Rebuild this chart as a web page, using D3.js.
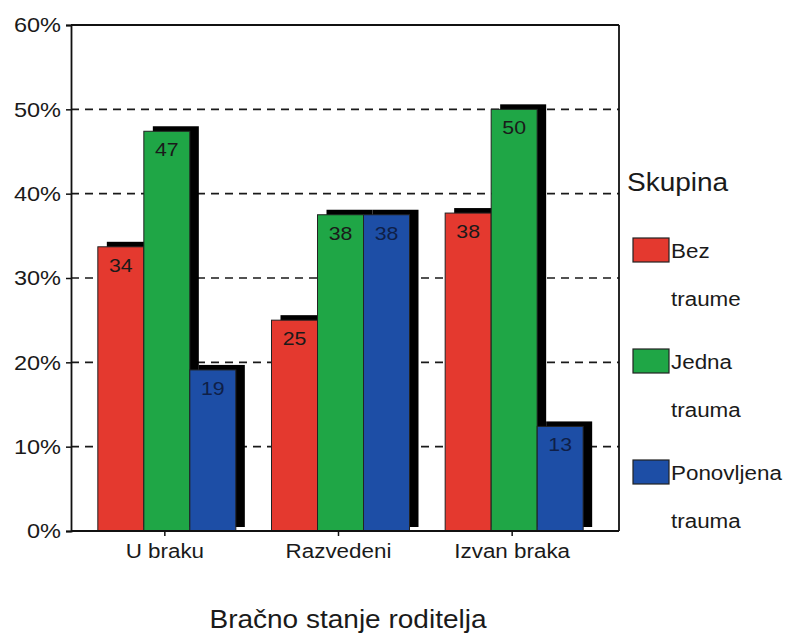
<!DOCTYPE html>
<html>
<head>
<meta charset="utf-8">
<script src="https://cdn.jsdelivr.net/npm/d3@7"></script>
<style>
  html, body { margin: 0; padding: 0; background: #fff; }
  text { font-family: Arial, "Liberation Sans", Helvetica, sans-serif; fill: #1a1a1a; }
</style>
</head>
<body>
<svg id="chart" width="792" height="636"></svg>
<script>
// ---- data ----
const categories = ["U braku", "Razvedeni", "Izvan braka"];
const seriesNames = ["Bez traume", "Jedna trauma", "Ponovljena trauma"];
const seriesLegendLines = [["Bez", "traume"], ["Jedna", "trauma"], ["Ponovljena", "trauma"]];
const bezTraume = [33.7, 25.0, 37.7];
const jednaTrauma = [47.4, 37.5, 50.0];
const ponovljenaTrauma = [19.1, 37.5, 12.4];
const valueLabels = [[34, 25, 38], [47, 38, 50], [19, 38, 13]];
const yTicks = [0, 10, 20, 30, 40, 50, 60];
const colors = ["#e4392f", "#1fa646", "#1d4ea6"];
const xTitle = "Bračno stanje roditelja";
const legendTitle = "Skupina";

const seriesValues = [bezTraume, jednaTrauma, ponovljenaTrauma];
const SX = 1.12; // horizontal stretch of text

const svg = d3.select("#chart");
const plot = { left: 71, right: 619, top: 25, bottom: 531 };

const y = d3.scaleLinear().domain([0, 60]).range([plot.bottom, plot.top]);
const x = d3.scaleBand().domain(categories).range([78, 599]).paddingInner(0).paddingOuter(0);
const xs = d3.scaleBand().domain(d3.range(3)).range([-67, 71]).padding(0);

function stretch(sel) {
  sel.each(function() {
    const w = this.getComputedTextLength();
    d3.select(this).attr("textLength", w * SX).attr("lengthAdjust", "spacingAndGlyphs");
  });
}

// grid lines
svg.append("g").selectAll("line").data(yTicks.filter(d => d > 0 && d < 60)).join("line")
  .attr("x1", plot.left).attr("x2", plot.right)
  .attr("y1", d => y(d)).attr("y2", d => y(d))
  .attr("stroke", "#1a1a1a").attr("stroke-width", 1.6).attr("stroke-dasharray", "8,6");

// bars with shadows
const gBars = svg.append("g");
seriesValues.forEach((vals, si) => {
  const g = gBars.append("g");
  categories.forEach((c, ci) => {
    const bx = x(c) + x.bandwidth() / 2 + xs(si);
    const by = y(vals[ci]);
    g.append("rect")
      .attr("x", bx + 9).attr("y", by - 5)
      .attr("width", xs.bandwidth()).attr("height", plot.bottom - 4 - (by - 5))
      .attr("fill", "#000");
    g.append("rect")
      .attr("x", bx).attr("y", by)
      .attr("width", xs.bandwidth()).attr("height", plot.bottom - by)
      .attr("fill", colors[si]).attr("stroke", "#222").attr("stroke-width", 1);
    g.append("text")
      .attr("x", bx + xs.bandwidth() / 2).attr("y", by + 25)
      .attr("text-anchor", "middle").attr("font-size", 19)
      .style("fill", si === 2 ? "#0f1f48" : "#1a1a1a")
      .text(valueLabels[si][ci]);
  });
});

// frame
const frame = svg.append("g").attr("stroke", "#111").attr("stroke-width", 1.8).attr("fill", "none");
frame.append("line").attr("x1", plot.left).attr("x2", plot.right).attr("y1", plot.top).attr("y2", plot.top);
frame.append("line").attr("x1", plot.right).attr("x2", plot.right).attr("y1", plot.top).attr("y2", plot.bottom);

// y axis
const yAxis = svg.append("g").attr("transform", `translate(${plot.left},0)`)
  .call(d3.axisLeft(y).tickValues(yTicks).tickFormat(d => d + "%").tickSize(5).tickPadding(5));
yAxis.select(".domain").attr("stroke", "#111").attr("stroke-width", 1.8);
yAxis.selectAll(".tick line").attr("stroke", "#111").attr("stroke-width", 1.5);
yAxis.selectAll(".tick text").attr("font-size", 21).attr("font-family", null).style("fill", "#1a1a1a");

// x axis
const xAxis = svg.append("g").attr("transform", `translate(0,${plot.bottom})`)
  .call(d3.axisBottom(x).tickSize(5).tickPadding(8));
xAxis.select(".domain").attr("d", `M${plot.left},0H${plot.right}`).attr("stroke", "#111").attr("stroke-width", 1.8);
xAxis.selectAll(".tick line").attr("stroke", "#111").attr("stroke-width", 1.5);
xAxis.selectAll(".tick text").attr("font-size", 20).attr("font-family", null).style("fill", "#1a1a1a");

// x title
svg.append("text").attr("x", 348).attr("y", 628).attr("text-anchor", "middle")
  .attr("font-size", 25).text(xTitle);

// legend
const lg = svg.append("g");
lg.append("text").attr("x", 627).attr("y", 191).attr("font-size", 25).text(legendTitle);
seriesNames.forEach((s, i) => {
  const top = 238 + i * 111;
  lg.append("rect").attr("x", 633).attr("y", top).attr("width", 36).attr("height", 24)
    .attr("fill", colors[i]).attr("stroke", "#222").attr("stroke-width", 1.2);
  seriesLegendLines[i].forEach((line, li) => {
    lg.append("text").attr("x", 671).attr("y", top + 20 + li * 48).attr("font-size", 20).text(line);
  });
});

svg.selectAll("text").call(stretch);
</script>
</body>
</html>
